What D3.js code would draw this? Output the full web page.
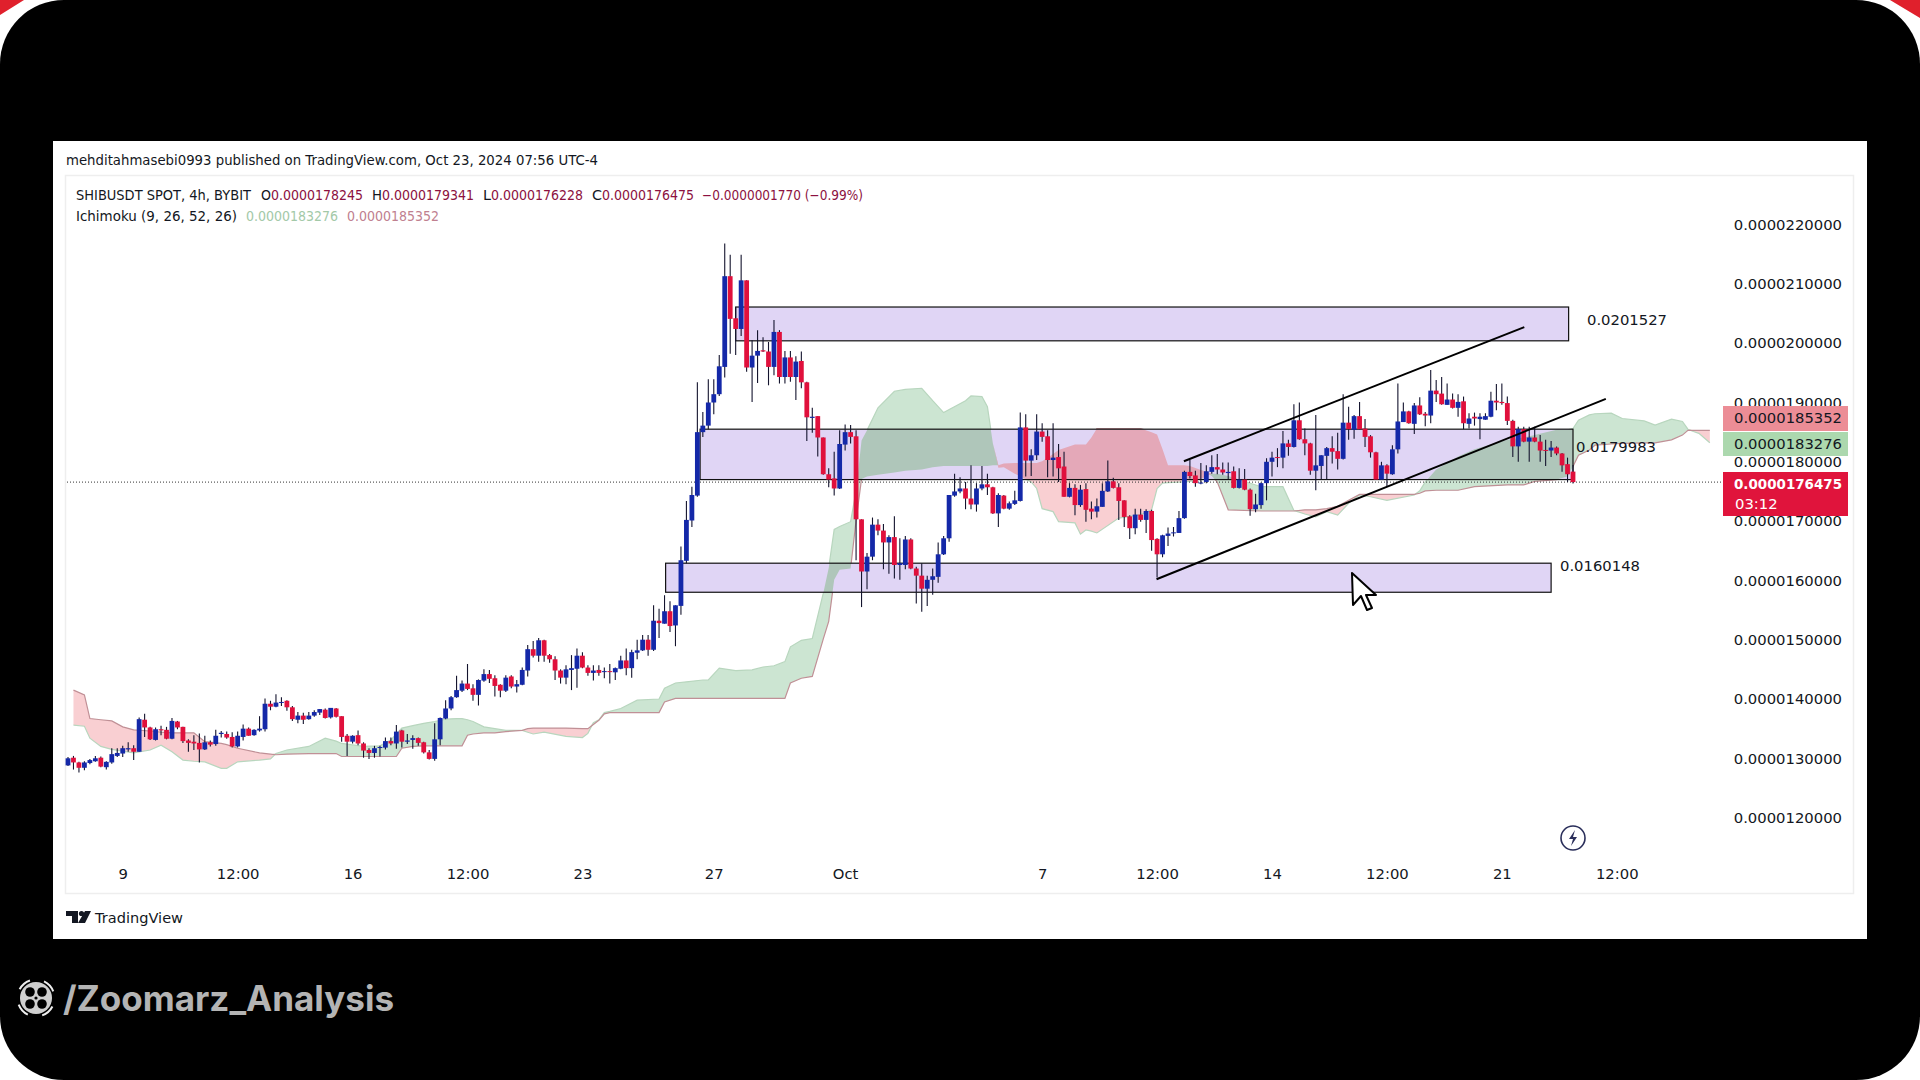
<!doctype html>
<html>
<head>
<meta charset="utf-8">
<title>SHIBUSDT 4h</title>
<script src="https://cdn.jsdelivr.net/npm/d3@7"></script>
<style>
  html, body { margin:0; padding:0; background:#000; overflow:hidden; }
  text { font-family:"DejaVu Sans", sans-serif; }
</style>
</head>
<body>
<script>
// prices are in units of 0.0000001
var barOpen = [
128.7,130.0,129.2,128.3,129.1,129.4,130.0,128.4,129.2,130.3,
130.7,131.4,131.6,131.0,136.4,135.1,133.0,134.8,134.7,133.2,
136.1,135.2,132.9,132.7,132.5,131.4,132.6,132.3,134.0,134.0,
133.5,131.9,133.5,134.9,133.8,134.6,134.8,139.1,138.6,139.3,
139.6,138.5,136.4,137.1,136.5,137.1,137.6,138.1,136.8,138.3,
137.0,133.7,132.7,133.8,132.4,131.3,130.8,131.7,131.7,132.8,
132.4,134.6,132.7,133.0,133.3,132.6,130.9,129.8,133.1,136.6,
138.3,140.2,141.3,142.5,141.7,140.6,143.0,144.1,143.4,142.3,
141.3,143.7,142.0,142.3,144.7,148.3,147.2,149.8,147.3,146.6,
144.7,143.5,144.8,145.0,147.2,145.2,144.3,144.8,144.5,144.6,
144.4,145.0,146.4,145.1,147.7,148.1,149.9,148.2,153.1,152.6,
154.7,152.3,155.6,163.2,170.0,174.2,184.9,186.0,189.9,191.3,
195.9,211.2,204.1,202.3,210.5,195.8,197.8,198.7,198.5,195.9,
201.8,194.2,197.5,194.2,196.9,193.3,187.3,187.6,184.0,177.8,
177.1,175.4,182.8,184.9,184.2,170.2,161.4,163.9,169.3,168.3,
166.3,167.2,162.5,162.5,166.8,161.9,160.7,158.5,160.0,160.5,
164.3,167.0,174.2,174.9,175.4,173.7,172.7,175.4,176.1,175.6,
171.2,174.2,172.0,172.8,173.3,185.7,180.1,181.0,185.0,184.2,
180.2,180.7,179.1,174.0,175.5,172.6,175.3,172.0,171.5,172.3,
174.9,176.6,175.6,173.4,170.7,168.7,171.0,170.1,171.6,166.9,
164.3,167.4,167.9,167.9,170.4,178.2,177.6,176.3,176.5,178.2,
179.0,178.6,178.0,178.3,175.5,176.9,175.2,171.9,172.6,176.3,
179.9,180.7,180.6,183.0,182.4,186.9,183.7,183.0,178.4,179.2,
180.9,182.2,181.7,180.4,186.5,185.3,187.6,185.5,184.2,181.5,
176.9,179.3,177.8,182.0,186.6,188.4,186.3,189.4,188.0,187.7,
191.9,191.4,189.5,190.4,189.0,190.1,186.3,187.5,187.1,187.0,
187.5,190.2,190.0,189.8,186.8,182.5,185.4,183.3,184.0,183.3,
181.9,181.8,182.3,181.3,179.5,178.245];
var barHigh = [
130.1,130.3,129.3,129.4,129.8,130.3,130.2,129.4,131.6,131.6,
132.0,132.6,132.1,136.8,137.4,135.2,135.1,135.4,135.2,136.7,
136.2,135.2,133.1,133.8,134.1,133.7,132.9,134.7,134.5,134.4,
134.3,134.4,135.6,135.1,134.8,137.0,140.0,139.6,140.7,140.2,
139.7,138.7,137.7,137.6,137.7,138.0,138.2,138.3,138.4,138.4,
137.0,134.0,133.8,134.6,132.6,131.6,132.0,132.0,133.4,133.4,
135.5,134.7,134.0,133.8,133.4,132.7,131.3,135.8,136.8,139.7,
140.4,143.8,143.0,145.8,142.4,143.2,144.9,144.8,143.9,142.4,
143.9,143.9,143.1,145.2,149.0,149.7,150.2,149.9,147.5,147.1,
144.9,145.6,147.3,148.4,147.8,145.6,145.6,145.6,145.2,145.8,
145.2,147.2,148.4,148.2,149.9,150.7,150.7,155.7,155.1,157.4,
156.4,155.7,165.6,173.3,175.7,193.3,188.3,193.8,193.8,197.9,
216.7,214.8,205.9,214.8,210.5,200.4,202.1,200.9,200.1,203.8,
202.1,198.6,198.6,197.7,198.5,193.4,189.0,187.6,184.0,178.8,
181.6,185.2,186.2,186.1,185.2,170.2,164.5,170.5,170.2,169.4,
167.5,170.7,167.0,167.4,167.0,162.2,162.8,160.7,161.9,166.3,
167.4,174.3,177.9,177.3,176.5,179.3,176.3,179.2,177.9,175.7,
174.6,174.3,173.2,175.0,188.2,187.9,182.0,187.9,186.4,185.2,
186.4,182.9,181.6,176.3,176.1,176.0,176.3,173.2,173.7,176.3,
180.1,177.2,176.3,173.4,170.9,172.0,172.0,171.9,171.8,167.0,
167.6,168.8,168.9,171.6,178.4,180.2,178.4,179.7,179.3,181.0,
181.2,179.8,179.8,179.1,178.8,178.7,175.4,174.5,176.4,180.5,
181.6,182.2,185.1,183.6,189.6,189.9,185.5,183.1,187.8,181.0,
182.4,184.2,184.8,191.3,189.2,187.8,190.0,187.1,184.4,181.6,
179.9,179.5,182.7,193.1,189.9,188.5,189.8,190.8,188.3,195.4,
193.7,194.2,193.1,191.4,191.3,190.9,188.1,188.2,188.1,188.1,
191.7,193.0,193.1,190.9,187.0,185.8,185.8,185.8,185.8,184.4,
183.6,183.4,182.5,181.4,180.6,179.341];
var barLow = [
128.6,128.0,127.5,127.9,128.9,129.3,128.4,128.0,129.0,130.1,
130.1,131.0,129.6,131.0,133.5,133.0,132.9,133.8,133.1,133.1,
134.8,132.5,131.0,131.3,129.2,131.3,131.9,132.0,133.4,133.2,
131.7,131.7,132.9,133.7,133.7,134.4,134.4,138.0,138.5,138.7,
137.9,136.2,135.8,135.7,136.4,136.9,137.2,136.6,136.6,136.8,
132.7,130.3,132.4,132.1,130.0,129.8,130.0,130.2,131.4,132.1,
131.5,131.7,132.3,131.5,132.0,130.7,129.7,129.5,132.1,136.5,
138.0,140.1,141.1,141.4,139.6,138.8,142.8,142.6,140.3,140.2,
141.1,141.7,141.0,142.2,143.7,146.9,146.2,146.2,146.0,143.1,
142.5,142.4,141.4,141.8,145.1,143.8,143.0,143.8,143.4,142.5,
143.1,144.9,143.9,143.5,146.6,148.0,147.2,148.0,150.2,152.6,
151.2,148.8,154.1,162.8,168.9,174.0,184.1,185.4,187.9,191.0,
194.1,198.1,197.9,201.1,195.1,190.0,193.2,198.4,192.8,194.5,
193.1,193.1,193.4,190.3,192.3,183.4,184.8,180.8,177.7,175.6,
174.2,175.3,181.8,183.0,163.3,155.4,158.4,163.3,167.5,161.8,
161.0,160.2,160.0,161.8,161.8,156.0,154.6,155.6,157.5,159.5,
164.2,166.4,174.0,174.6,171.9,171.9,171.5,175.1,174.3,171.1,
168.9,171.9,171.8,172.6,173.2,177.4,177.5,180.2,183.3,177.3,
177.4,176.5,174.0,173.9,170.9,172.3,169.8,170.2,170.5,172.3,
174.8,175.4,170.1,168.9,166.9,167.7,169.8,167.9,164.9,160.4,
163.8,165.7,167.3,167.9,170.3,177.1,175.7,176.1,176.3,177.9,
177.8,177.7,177.0,175.4,175.4,175.1,170.8,171.4,172.0,173.4,
177.4,179.0,178.8,180.9,182.3,183.6,181.0,177.7,175.1,176.9,
176.9,179.6,178.6,180.3,183.6,183.8,185.4,182.4,180.6,176.9,
176.9,175.8,177.7,181.3,186.6,186.3,184.6,187.8,185.9,186.4,
190.0,189.5,189.5,188.9,187.5,185.4,185.5,186.0,183.7,187.0,
187.4,188.6,189.5,186.1,180.7,179.9,183.2,179.9,183.2,179.9,
179.2,180.7,181.0,178.2,176.5,176.228];
var barClose = [
129.9,129.2,128.3,129.2,129.6,129.9,128.5,129.3,130.6,130.8,
131.6,131.6,131.0,136.5,135.1,133.1,134.8,134.6,133.2,136.2,
135.1,132.8,132.5,132.4,131.4,132.6,132.2,133.7,134.2,133.4,
131.9,133.7,134.9,133.7,134.7,134.9,139.1,138.6,139.3,139.4,
138.5,136.5,137.1,136.4,137.1,137.7,138.2,136.7,138.4,136.9,
133.5,132.7,133.7,132.4,131.2,130.8,131.6,131.8,132.8,132.4,
134.4,132.7,132.9,133.3,132.5,130.9,129.8,133.1,136.7,138.3,
140.2,141.4,142.5,141.6,140.6,143.1,144.1,143.3,142.1,141.3,
143.5,142.0,142.4,144.8,148.3,147.2,149.8,147.2,146.6,144.7,
143.5,144.9,145.1,147.2,145.2,144.3,144.7,144.3,144.6,144.5,
145.1,146.4,145.1,147.8,148.1,149.9,148.2,153.1,152.7,154.7,
152.2,155.7,163.3,170.1,174.3,184.9,186.0,189.9,191.3,196.0,
211.2,204.0,202.3,210.5,195.8,197.8,198.6,198.5,195.9,201.8,
194.2,197.5,194.2,196.8,193.3,187.4,187.5,184.0,177.8,176.9,
175.4,182.9,184.9,184.1,170.2,161.4,163.9,169.3,168.3,166.3,
167.2,162.5,162.8,166.8,161.9,160.7,158.5,160.0,160.6,164.3,
167.0,174.3,174.9,175.4,173.7,172.7,175.4,176.1,175.6,171.2,
174.3,172.0,172.9,173.4,185.7,180.1,181.0,185.0,184.1,180.2,
180.6,178.8,174.0,175.5,172.6,175.2,171.8,171.5,172.4,175.0,
176.6,175.5,173.3,170.6,168.7,171.0,170.1,171.6,166.7,164.3,
167.5,167.8,168.0,170.4,178.2,177.5,176.3,176.4,178.3,179.0,
178.6,178.1,178.2,175.5,176.9,175.2,171.9,172.7,176.3,179.9,
180.6,180.6,183.0,182.4,186.9,183.7,183.0,178.4,179.3,181.0,
182.2,181.6,180.4,186.5,185.4,187.6,185.4,184.1,181.5,176.9,
179.3,177.9,182.0,186.7,188.4,186.4,189.4,187.9,187.7,191.9,
191.3,189.6,190.4,189.0,190.0,186.4,187.2,187.2,187.5,187.6,
190.2,189.9,189.8,186.8,182.5,185.4,183.3,184.0,183.3,181.8,
181.8,182.3,181.3,179.3,177.8,176.475];

// ichimoku cloud, read at the bars where its outline bends
var cloudBars = [
1,3,4,6,8,10,12,15,17,19,21,23,25,28,29,31,35,37,38,40,
44,47,49,50,54,57,59,60,61,63,65,67,69,71,72,73,74,76,78,80,
83,84,85,87,91,94,95,96,97,98,99,101,104,108,109,111,113,116,117,119,
122,125,127,129,131,132,134,136,138,139,140,141,143,144,145,146,148,151,153,156,
158,160,164,165,167,168,169,170,171,173,176,177,178,180,181,184,185,186,187,188,
192,196,198,199,200,201,204,205,207,209,210,212,218,222,224,226,228,230,232,234,
236,238,241,246,247,248,250,254,257,263,266,268,272,274,275,276,278,279,282,284,
288,290,293,295,296,297,298,300];
var spanA = [
135.5,135.3,133.3,131.9,131.4,131.1,130.8,131.3,132.1,131.0,129.6,129.4,129.3,128.2,128.2,129.3,129.6,129.8,130.7,131.3,
131.9,133.3,132.8,132.4,131.9,132.0,133.0,134.0,135.0,135.4,135.8,136.1,136.5,136.6,136.6,136.4,136.1,135.2,134.9,134.6,
134.6,134.3,134.0,134.3,133.6,133.4,134.1,135.9,136.4,137.6,137.8,138.3,139.7,139.9,141.7,142.6,142.8,143.1,143.1,145.1,
144.7,144.8,145.3,145.5,146.2,148.7,149.8,150.1,157.7,162.0,168.5,169.0,169.8,175.0,183.5,185.2,189.0,191.8,192.1,192.3,
190.2,188.2,190.2,191.0,190.9,189.2,183.0,178.9,179.0,177.9,176.5,175.4,172.0,171.5,169.8,169.6,167.7,168.4,168.2,167.9,
170.4,171.0,171.8,175.4,176.3,176.4,176.5,176.6,177.0,177.9,177.9,177.5,175.7,175.7,171.7,171.1,170.6,171.5,170.9,172.9,
174.3,174.0,173.4,174.3,175.0,176.5,178.6,180.8,182.0,183.6,184.0,184.4,185.3,185.3,185.5,186.9,187.8,188.0,188.1,187.2,
186.8,186.1,187.1,186.7,185.4,185.0,184.7,183.1];
var spanB = [
141.4,140.6,136.6,136.4,136.2,135.2,134.7,134.5,134.3,134.2,134.2,134.2,132.7,132.4,132.2,131.6,130.8,130.6,130.5,130.6,
130.7,130.7,130.7,130.2,130.2,130.2,130.2,130.2,131.6,131.9,132.0,132.0,132.0,132.0,132.0,133.8,134.0,134.2,134.2,134.4,
134.6,134.9,135.0,135.0,135.0,134.9,134.9,135.6,136.3,137.4,137.6,137.6,137.6,137.6,139.4,140.0,140.0,140.0,140.0,140.0,
140.0,140.0,140.0,140.0,140.0,142.6,143.4,143.7,150.0,153.0,160.0,161.7,161.9,170.0,177.0,177.4,177.7,178.1,178.4,178.6,
179.0,179.2,179.2,179.2,179.2,179.2,179.3,179.3,179.6,179.7,179.7,179.7,180.0,181.2,181.9,182.8,182.8,182.8,184.0,185.5,
185.5,185.5,184.9,184.5,182.0,179.3,179.3,179.2,178.5,177.5,176.5,171.8,171.6,171.6,171.6,171.8,171.8,172.0,172.4,173.4,
174.4,174.4,174.4,174.4,174.6,175.0,175.1,175.1,175.7,176.0,176.0,176.6,176.9,177.4,179.1,181.0,181.9,182.7,182.9,183.0,
183.1,183.1,183.6,184.4,185.2,185.2,185.2,185.2];

// drawn boxes and channel lines
var zoneLabels = ["0.0201527", "0.0179983", "0.0160148"];
var zoneFrom = [122, 115.5, 109.2];
var zoneTo = [274.2, 275, 271];
var zoneTop = [206.0, 185.4, 162.8];
var zoneBottom = [200.3, 176.9, 157.9];
var trendFrom = [203.9, 198.9];
var trendTo = [266.1, 281];
var trendStart = [180.0, 160.1];
var trendEnd = [202.6, 190.5];

var priceTicks = [220, 210, 200, 190, 180, 170, 160, 150, 140, 130, 120];
var timeBars = [10, 31, 52, 73, 94, 118, 142, 178, 199, 220, 241, 262, 283];
var timeLabels = ["9", "12:00", "16", "12:00", "23", "27", "Oct", "7", "12:00", "14", "12:00", "21", "12:00"];
var lastPrice = 176.475;

var fullPrice = function(v) { return (v * 1e-7).toFixed(10); };

var svg = d3.select("body").append("svg").attr("width", 1920).attr("height", 1080)
    .style("display", "block");

// screen frame, white corners with a sliver of red on top
svg.append("rect").attr("width", 1920).attr("height", 1080).attr("fill", "#fff");
svg.append("path").attr("d", "M0 0H24L0 15Z M1920 0H1890L1920 18Z").attr("fill", "#e0202c");
svg.append("rect").attr("width", 1920).attr("height", 1080).attr("rx", 64).attr("fill", "#000");

// chart card
svg.append("rect").attr("x", 53).attr("y", 141).attr("width", 1814).attr("height", 798).attr("fill", "#fff");
svg.append("rect").attr("x", 65.5).attr("y", 175.5).attr("width", 1788).attr("height", 718)
    .attr("fill", "#fff").attr("stroke", "#eeeeee").attr("stroke-width", 1.5);

var x = d3.scaleLinear().domain([0, 275]).range([68, 1573]);
var y = d3.scaleLinear().domain([120, 220]).range([817, 224]);

// cloud
var cloud = d3.range(cloudBars.length);
var greenArea = d3.area().x(function(i) { return x(cloudBars[i]); })
    .y0(function(i) { return y(spanB[i]); })
    .y1(function(i) { return y(Math.max(spanA[i], spanB[i])); });
var redArea = d3.area().x(function(i) { return x(cloudBars[i]); })
    .y0(function(i) { return y(spanA[i]); })
    .y1(function(i) { return y(Math.max(spanA[i], spanB[i])); });
svg.append("path").attr("d", greenArea(cloud)).attr("fill", "#cce5d2");
svg.append("path").attr("d", redArea(cloud)).attr("fill", "#f9cfd2");
svg.append("path").attr("fill", "none").attr("stroke", "#b8d6be").attr("stroke-width", 1.2)
    .attr("d", d3.line().x(function(i) { return x(cloudBars[i]); }).y(function(i) { return y(spanA[i]); })(cloud));
svg.append("path").attr("fill", "none").attr("stroke", "#c09096").attr("stroke-width", 1.2)
    .attr("d", d3.line().x(function(i) { return x(cloudBars[i]); }).y(function(i) { return y(spanB[i]); })(cloud));

// box fills
function zoneRects(parent) {
    return parent.selectAll("rect.zone").data(zoneLabels).enter().append("rect").attr("class", "zone")
        .attr("x", function(d, i) { return x(zoneFrom[i]); })
        .attr("y", function(d, i) { return y(zoneTop[i]); })
        .attr("width", function(d, i) { return x(zoneTo[i]) - x(zoneFrom[i]); })
        .attr("height", function(d, i) { return y(zoneBottom[i]) - y(zoneTop[i]); });
}
zoneRects(svg).attr("fill", "#e0d5f5");

// cloud seen through the boxes
var clip = svg.append("clipPath").attr("id", "zones");
zoneRects(clip);
var through = svg.append("g").attr("clip-path", "url(#zones)");
through.append("path").attr("d", greenArea(cloud)).attr("fill", "#afc6ba");
through.append("path").attr("d", redArea(cloud)).attr("fill", "#e4a8b8");

// box outlines
zoneRects(svg.append("g")).attr("fill", "none").attr("stroke", "#111").attr("stroke-width", 1.2);

// dotted last price line
svg.append("line").attr("x1", 67).attr("x2", 1722).attr("y1", y(lastPrice)).attr("y2", y(lastPrice))
    .attr("stroke", "#333").attr("stroke-dasharray", "1 2");

// candles
var bars = d3.range(barOpen.length);
svg.selectAll("line.wick").data(bars).enter().append("line").attr("class", "wick")
    .attr("x1", function(i) { return x(i); }).attr("x2", function(i) { return x(i); })
    .attr("y1", function(i) { return y(barHigh[i]); }).attr("y2", function(i) { return y(barLow[i]); })
    .attr("stroke", "#14142e").attr("stroke-width", 1.1);
svg.selectAll("rect.body").data(bars).enter().append("rect").attr("class", "body")
    .attr("x", function(i) { return x(i) - 2.4; })
    .attr("width", 4.8)
    .attr("y", function(i) { return y(Math.max(barOpen[i], barClose[i])); })
    .attr("height", function(i) { return Math.max(1, Math.abs(y(barOpen[i]) - y(barClose[i]))); })
    .attr("fill", function(i) { return barClose[i] >= barOpen[i] ? "#1428a8" : "#e0103c"; });

// channel lines
svg.selectAll("line.trend").data(trendFrom).enter().append("line").attr("class", "trend")
    .attr("x1", function(d) { return x(d); })
    .attr("y1", function(d, i) { return y(trendStart[i]); })
    .attr("x2", function(d, i) { return x(trendTo[i]); })
    .attr("y2", function(d, i) { return y(trendEnd[i]); })
    .attr("stroke", "#000").attr("stroke-width", 2);

// axes
var yAxis = d3.axisLeft(y).tickValues(priceTicks).tickSize(0).tickPadding(0).tickFormat(fullPrice);
var yg = svg.append("g").attr("transform", "translate(1842,0.6)").call(yAxis);
yg.select(".domain").remove();
yg.selectAll("text").attr("font-size", 14.8).attr("font-family", "DejaVu Sans").attr("fill", "#131722");

var xAxis = d3.axisBottom(x).tickValues(timeBars).tickSize(0).tickPadding(0)
    .tickFormat(function(d, i) { return timeLabels[i]; });
var xg = svg.append("g").attr("transform", "translate(0,868.5)").call(xAxis);
xg.select(".domain").remove();
xg.selectAll("text").attr("font-size", 14.8).attr("font-family", "DejaVu Sans").attr("fill", "#131722");

// box labels
var labelX = [1587, 1576, 1560];
var labelY = [320, 447, 566];
svg.selectAll("text.zoneLabel").data(zoneLabels).enter().append("text").attr("class", "zoneLabel")
    .attr("x", function(d, i) { return labelX[i]; })
    .attr("y", function(d, i) { return labelY[i]; })
    .attr("dy", "0.35em").attr("font-size", 14.8).attr("fill", "#131722")
    .text(function(d) { return d; });

// price tags
function tag(tagY, h, fill, color, weight, label) {
    svg.append("rect").attr("x", 1723).attr("y", tagY).attr("width", 125).attr("height", h).attr("fill", fill);
    svg.append("text").attr("x", 1842).attr("y", tagY + 12).attr("dy", "0.35em").attr("text-anchor", "end")
        .attr("font-size", 14.8).attr("font-weight", weight).attr("fill", color)
        .attr("textLength", 108).attr("lengthAdjust", "spacingAndGlyphs").text(label);
}
tag(406, 25, "#ec8d96", "#131722", "normal", fullPrice(185.352));
tag(432, 24, "#acd8ae", "#131722", "normal", fullPrice(183.276));
tag(472, 44, "#e0143c", "#fff", "bold", fullPrice(lastPrice));
svg.append("text").attr("x", 1735).attr("y", 504).attr("dy", "0.35em").attr("font-size", 14.8)
    .attr("fill", "#fff").text("03:12");

// header and legend
function label(px, py, size, color, str, len) {
    var t = svg.append("text").attr("x", px).attr("y", py).attr("dy", "0.35em")
        .attr("font-size", size).attr("fill", color).text(str);
    if (len) t.attr("textLength", len).attr("lengthAdjust", "spacingAndGlyphs");
    return t;
}
var dark = "#131722", maroon = "#8c1140";
label(66, 160.5, 14, dark, "mehditahmasebi0993 published on TradingView.com, Oct 23, 2024 07:56 UTC-4", 532);
label(76, 195, 14, dark, "SHIBUSDT SPOT, 4h, BYBIT", 175);
label(261, 195, 14, dark, "O", 10);
label(271, 195, 14, maroon, "0.0000178245", 92);
label(372, 195, 14, dark, "H", 10);
label(382, 195, 14, maroon, "0.0000179341", 92);
label(483, 195, 14, dark, "L", 8);
label(491, 195, 14, maroon, "0.0000176228", 92);
label(592, 195, 14, dark, "C", 10);
label(602, 195, 14, maroon, "0.0000176475", 92);
label(702, 195, 14, maroon, "\u22120.0000001770 (\u22120.99%)", 161);
label(76, 216, 14, dark, "Ichimoku (9, 26, 52, 26)", 161);
label(246, 216, 14, "#a3c9a8", "0.0000183276", 92);
label(347, 216, 14, "#c0808f", "0.0000185352", 92);

// TradingView mark
svg.append("path").attr("d", "M66 911H78V923H72V916H66Z M85 911H91L85 923H78Z").attr("fill", "#131722");
svg.append("circle").attr("cx", 81.5).attr("cy", 913.5).attr("r", 2.6).attr("fill", "#131722");
label(95, 917.5, 14.5, dark, "TradingView", 88);

// replay bolt
svg.append("circle").attr("cx", 1573).attr("cy", 838).attr("r", 12).attr("fill", "none")
    .attr("stroke", "#2a2e5a").attr("stroke-width", 1.6);
svg.append("path").attr("d", "M1575 830L1569 839H1573L1571 846L1577 837H1573Z").attr("fill", "#2a2e5a");

// mouse pointer
svg.append("path").attr("transform", "translate(1352,573)")
    .attr("d", "M0 0L1 32L9 23L15 37L20 35L14 22L24 22Z")
    .attr("fill", "#fff").attr("stroke", "#000").attr("stroke-width", 2).attr("stroke-linejoin", "round");

// channel watermark
var reelArc = d3.arc().innerRadius(17.5).outerRadius(19.5);
[0.45, 2.05, 3.6, 5.2].forEach(function(a) {
    svg.append("path").attr("transform", "translate(36,998)")
        .attr("d", reelArc({ startAngle: a, endAngle: a + 0.75 })).attr("fill", "#eee");
});
svg.append("circle").attr("cx", 36).attr("cy", 998).attr("r", 16).attr("fill", "#cfcfcf");
var holeX = [-6, 6, -6, 6], holeY = [-6, -6, 6, 6];
holeX.forEach(function(dx, i) {
    svg.append("circle").attr("cx", 36 + dx).attr("cy", 998 + holeY[i]).attr("r", 4.8).attr("fill", "#000");
});
svg.append("circle").attr("cx", 36).attr("r", 1.6).attr("cy", 998).attr("fill", "#000");
svg.append("text").attr("x", 63).attr("y", 998).attr("dy", "0.36em")
    .attr("font-weight", 700).attr("font-size", 35)
    .attr("fill", "#b4b4b4").attr("textLength", 331).attr("lengthAdjust", "spacingAndGlyphs")
    .style("font-family", "Inter").text("/Zoomarz_Analysis");
</script>
</body>
</html>
